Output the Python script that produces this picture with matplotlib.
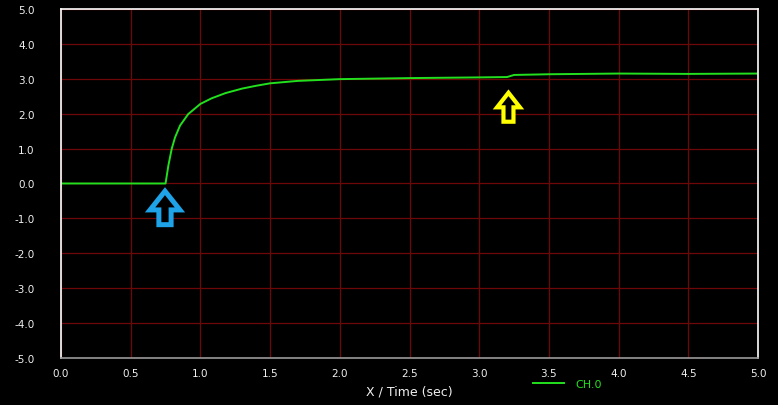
import matplotlib
matplotlib.use('Agg')
import matplotlib.pyplot as plt

# CH.0 trace
time_s = [0.0, 0.75, 0.77, 0.794, 0.818, 0.854, 0.913, 1.0, 1.08, 1.18, 1.3, 1.4,
          1.5, 1.7, 2.0, 2.5, 3.0, 3.2, 3.25, 3.5, 4.0, 4.5, 5.0]
ch0 = [0.0, 0.0, 0.51, 0.99, 1.32, 1.66, 1.99, 2.28, 2.44, 2.59, 2.72, 2.80,
       2.87, 2.94, 2.99, 3.02, 3.04, 3.05, 3.11, 3.13, 3.15, 3.14, 3.15]

x_ticks = [0.0, 0.5, 1.0, 1.5, 2.0, 2.5, 3.0, 3.5, 4.0, 4.5, 5.0]
y_ticks = [-5.0, -4.0, -3.0, -2.0, -1.0, 0.0, 1.0, 2.0, 3.0, 4.0, 5.0]

fig = plt.figure(figsize=(7.78, 4.06), dpi=100, facecolor='black')
ax = fig.add_axes([0.0784, 0.1158, 0.8959, 0.8596], facecolor='black')

ax.plot(time_s, ch0, color='#22e01e', lw=1.4, label='CH.0')

ax.set_xlim(0, 5)
ax.set_ylim(-5, 5)
ax.set_xticks(x_ticks)
ax.set_yticks(y_ticks)
ax.set_xticklabels(['%.1f' % v for v in x_ticks])
ax.set_yticklabels(['%.1f' % v for v in y_ticks])
ax.grid(True, color='#6e0808', lw=0.9)
ax.set_axisbelow(True)
ax.tick_params(length=0, colors='#f0f0f0', labelsize=7.5)
ax.tick_params(axis='y', pad=19)
ax.tick_params(axis='x', pad=7)
for s in ['left', 'top', 'right']:
    ax.spines[s].set_color('white')
    ax.spines[s].set_linewidth(1.2)
ax.spines['bottom'].set_color('#999999')
ax.spines['bottom'].set_linewidth(1.2)

ax.set_xlabel('X / Time (sec)', color='#f0f0f0', fontsize=9, labelpad=5)

# hollow arrows pointing at the two events
ax.annotate('', xy=(0.746, -0.22), xytext=(0.746, -1.18),
            arrowprops=dict(arrowstyle='simple,head_width=2.15,head_length=1.35,tail_width=0.88',
                            fc='black', ec='#1ea3e8', lw=3.6, shrinkA=0, shrinkB=0,
                            joinstyle='miter'))
ax.annotate('', xy=(3.21, 2.6), xytext=(3.21, 1.77),
            arrowprops=dict(arrowstyle='simple,head_width=1.65,head_length=1.05,tail_width=0.72',
                            fc='black', ec='#ffff00', lw=3.0, shrinkA=0, shrinkB=0,
                            joinstyle='miter'))

ax.legend(loc='center left', bbox_to_anchor=(0.672, 0.052), bbox_transform=fig.transFigure,
          frameon=False, fontsize=8, labelcolor='#22e01e', handlelength=2.8,
          handletextpad=1.0)

fig.savefig('out.png', dpi=100, facecolor='black')
